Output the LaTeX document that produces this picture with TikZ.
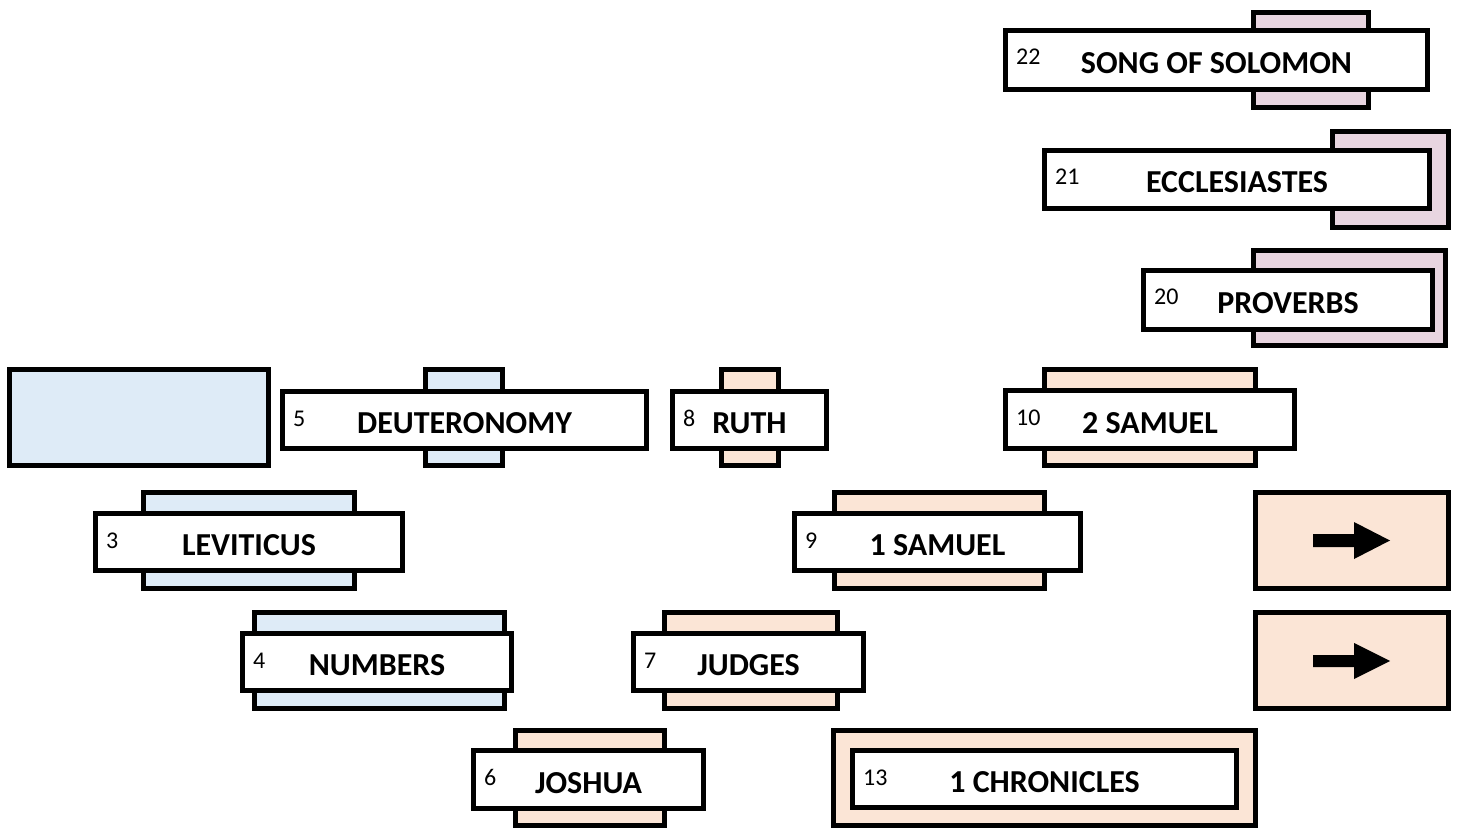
\documentclass[tikz,border=0pt]{standalone}
\usepackage{fontspec}
\setmainfont{Carlito}
\definecolor{cblue}{HTML}{DEEBF7}
\definecolor{cpeach}{HTML}{FBE5D6}
\definecolor{cpink}{HTML}{E8D5E0}
\newcommand\rbox[5]{\draw[#1] ({#2+2.4},{#3+2.4}) rectangle ({#4-2.4},{#5-2.4});}
\begin{document}
\begin{tikzpicture}[x=1pt,y=-1pt,
  shp/.style={draw=black,line width=4.8pt,line join=miter},
  blueb/.style={shp,fill=cblue},
  peachb/.style={shp,fill=cpeach},
  pinkb/.style={shp,fill=cpink},
  whiteb/.style={shp,fill=white},
  lab/.style={anchor=base,inner sep=0pt,yshift=-1.5pt,font=\fontsize{32}{36}\selectfont\bfseries},
  num/.style={anchor=base west,inner sep=0pt,yshift=-1pt,font=\fontsize{24}{28}\selectfont}]
\useasboundingbox (0,0) rectangle (1460,829);
% top right (pink)
\rbox{pinkb}{1251}{10}{1371}{110}
\rbox{whiteb}{1003}{28}{1430}{92}
\node[num] (n22) at (1016,64) {22};
\node[lab] (song) at (1216.5,72) {SONG OF SOLOMON};
\rbox{pinkb}{1330}{129}{1451}{230}
\rbox{whiteb}{1042}{148}{1432}{211}
\node[num] (n21) at (1055,184) {21};
\node[lab] (eccl) at (1237,191.5) {ECCLESIASTES};
\rbox{pinkb}{1251}{248}{1448}{348}
\rbox{whiteb}{1141}{268}{1435}{332}
\node[num] (n20) at (1154,304) {20};
\node[lab] (prov) at (1288,312) {PROVERBS};
% blue
\rbox{blueb}{7}{367}{271}{468}
\rbox{blueb}{423}{367}{505}{468}
\rbox{whiteb}{280}{389}{649}{451}
\node[num] (n5) at (293,425) {5};
\node[lab] (deut) at (464.5,432) {DEUTERONOMY};
\rbox{blueb}{141}{490}{357}{591}
\rbox{whiteb}{93}{511}{405}{573}
\node[num] (n3) at (106,547) {3};
\node[lab] (lev) at (249,554) {LEVITICUS};
\rbox{blueb}{252}{610}{507}{711}
\rbox{whiteb}{240}{631}{514}{693}
\node[num] (n4) at (253,667) {4};
\node[lab] (numb) at (377,674) {NUMBERS};
% peach
\rbox{peachb}{719}{367}{781}{468}
\rbox{whiteb}{670}{389}{829}{451}
\node[num] (n8) at (683,425) {8};
\node[lab] (ruth) at (749.5,432) {RUTH};
\rbox{peachb}{1042}{367}{1258}{468}
\rbox{whiteb}{1003}{388}{1297}{451}
\node[num] (n10) at (1016,424) {10};
\node[lab] (sam2) at (1150,431.5) {2 SAMUEL};
\rbox{peachb}{832}{490}{1047}{591}
\rbox{whiteb}{792}{511}{1083}{573}
\node[num] (n9) at (805,547) {9};
\node[lab] (sam1) at (937.5,554) {1 SAMUEL};
\rbox{peachb}{662}{610}{840}{711}
\rbox{whiteb}{631}{631}{866}{693}
\node[num] (n7) at (644,667) {7};
\node[lab] (judg) at (748.5,674) {JUDGES};
\rbox{peachb}{513}{728}{667}{828}
\rbox{whiteb}{471}{748}{706}{811}
\node[num] (n6) at (484,784) {6};
\node[lab] (josh) at (588.5,791.5) {JOSHUA};
\rbox{peachb}{831}{728}{1258}{828}
\rbox{whiteb}{850}{748}{1239}{810}
\node[num] (n13) at (863,784) {13};
\node[lab] (chr1) at (1044.5,791) {1 CHRONICLES};
% arrow boxes
\rbox{peachb}{1253}{490}{1451}{591}
\fill (1313,534) -- (1354,534) -- (1354,522) -- (1390,540.5) -- (1354,559) -- (1354,547) -- (1313,547) -- cycle;
\rbox{peachb}{1253}{610}{1451}{711}
\fill (1313,655) -- (1354,655) -- (1354,643) -- (1390,661) -- (1354,679) -- (1354,667) -- (1313,667) -- cycle;
\end{tikzpicture}
\end{document}
